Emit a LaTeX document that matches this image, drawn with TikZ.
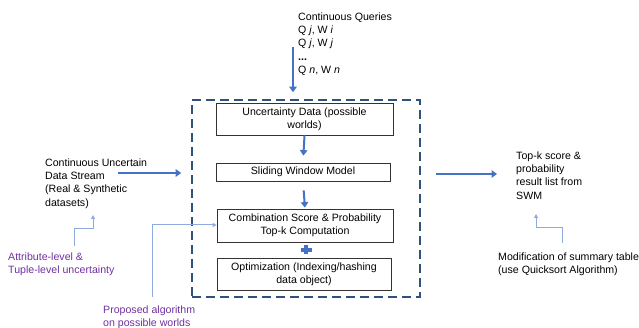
\documentclass[tikz,border=0pt]{standalone}
\usepackage{fontspec}
\setmainfont{Liberation Sans}
\usetikzlibrary{arrows.meta}
\definecolor{thickblue}{RGB}{68,114,196}
\definecolor{thinblue}{RGB}{143,170,220}
\definecolor{framec}{RGB}{47,82,125}
\definecolor{purp}{RGB}{112,48,160}
\begin{document}
\begin{tikzpicture}[x=1pt,y=-1pt,
 every node/.style={font=\fontsize{10.6}{13.3}\selectfont},
 lbl/.style={anchor=north west, align=left, inner sep=0pt},
 procbox/.style={draw=black!80, line width=0.8pt, align=center, inner sep=1pt},
 framebox/.style={draw=framec, line width=1.6pt, dash pattern=on 9pt off 5pt, inner sep=0pt},
 bigarrow/.style={draw=thickblue, line width=2pt, -{Triangle[width=7.5pt,length=5.5pt]}},
 thinarrow/.style={draw=thinblue, line width=1pt, -{Triangle[width=4pt,length=4pt]}},
 plusline/.style={draw=thickblue, line width=3.5pt},
]
\useasboundingbox (0,0) rectangle (639,328);

% dashed frame
\node[framebox, minimum width=228pt, minimum height=197pt] (frame) at (306,198.5) {};

% process boxes
\node[procbox, minimum width=177pt, minimum height=32pt] (b1) at (304.5,119) {Uncertainty Data (possible\\worlds)};
\node[procbox, minimum width=174pt, minimum height=18pt] (b2) at (303,172) {Sliding Window Model};
\node[procbox, minimum width=176pt, minimum height=33pt] (b3) at (305,225.5) {Combination Score \& Probability\\Top-k Computation};
\node[procbox, minimum width=174pt, minimum height=32pt] (b4) at (304,274) {Optimization (Indexing/hashing\\data object)};

% plus sign
\coordinate (plus) at (306,250);
\draw[plusline] ([xshift=-5.5pt]plus) -- ([xshift=5.5pt]plus);
\draw[plusline] ([yshift=-4.5pt]plus) -- ([yshift=4.5pt]plus);

% labels
\node[lbl] (queries) at (298,12.5) {Continuous Queries\\Q \textit{j}, W \textit{i}\\Q \textit{j}, W \textit{j}\\\textbf{...}\\Q \textit{n}, W \textit{n}};
\node[lbl] (stream) at (45,158.5) {Continuous Uncertain\\Data Stream\\(Real \& Synthetic\\datasets)};
\node[lbl, text=purp] (attr) at (8,252.5) {Attribute-level \&\\Tuple-level uncertainty};
\node[lbl, text=purp] (proposed) at (103,305.5) {Proposed algorithm\\on possible worlds};
\node[lbl] (topk) at (516,151.5) {Top-k score \&\\probability\\result list from\\SWM};
\node[lbl] (modif) at (498,252.5) {Modification of summary table\\(use Quicksort Algorithm)};

% thick arrows
\coordinate (qtail) at (293,47);
\draw[bigarrow, shorten >=7pt] (qtail) -- (qtail |- frame.north);
\coordinate (stail) at (118,173);
\draw[bigarrow, shorten >=10pt] (stail) -- (stail -| frame.west);
\coordinate (rrow) at (0,174);
\draw[bigarrow, shorten <=15pt, shorten >=19pt] (frame.east |- rrow) -- (topk.west |- rrow);
\draw[bigarrow, shorten >=7pt] (b1.south) -- (b2.north);
\draw[bigarrow, shorten <=9pt, shorten >=1pt] (b2.south) -- (b3.north);

% thin connectors
\coordinate (a1) at (74,246);
\coordinate (a2) at (93,215);
\draw[thinarrow] (a1) |- (93,229) -- (a2);
\coordinate (p1) at (152,297);
\draw[thinarrow] (p1) |- (b3.west |- 0,225);
\coordinate (m1) at (562,243);
\coordinate (m2) at (536,214);
\draw[thinarrow] (m1) |- (536,228) -- (m2);
\end{tikzpicture}
\end{document}
